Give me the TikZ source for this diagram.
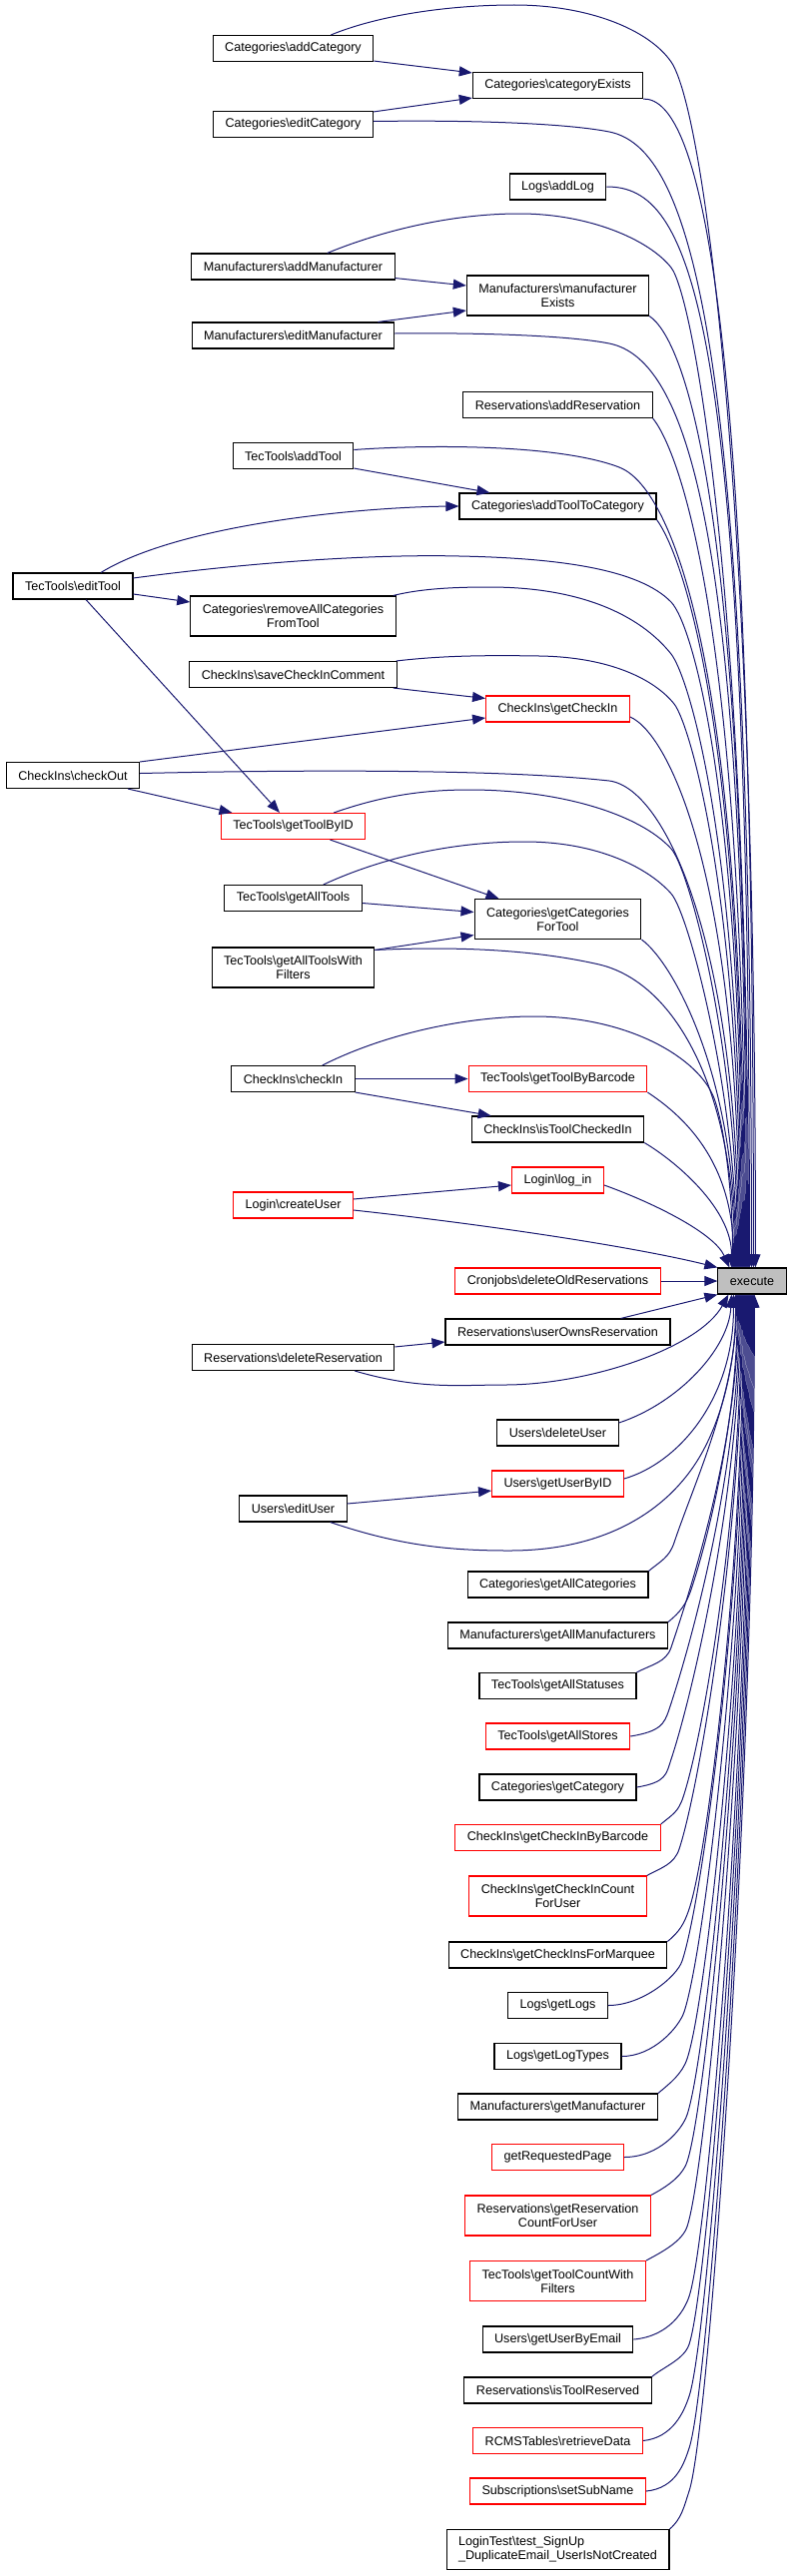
\documentclass[tikz,border=0pt]{standalone}
\usepackage{fontspec}
\setmainfont{Liberation Sans}
\usetikzlibrary{arrows.meta,calc}
\definecolor{edgec}{HTML}{191970}
\definecolor{boxred}{HTML}{FF0000}
\definecolor{boxgray}{HTML}{BFBFBF}
\newcommand{\fnsize}{\fontsize{12.6pt}{14pt}\selectfont}
\newcommand{\bsl}{\textbackslash}
\tikzset{
  fn/.style={rectangle, draw=black, fill=white, line width=1.1pt, inner xsep=12pt, minimum height=26pt, font=\fnsize, align=center},
  fnr/.style={fn, draw=boxred},
  fnx/.style={fn, fill=boxgray},
  two/.style={minimum height=40pt},
  calls/.style={draw=edgec, line width=1pt, -{Triangle[length=13pt,width=10pt]}},
}
\begin{document}
\begin{tikzpicture}[x=1pt,y=-1pt]
  \useasboundingbox (0,0) rectangle (793,2580);
  \node[fn] (catAdd) at (293.5,48.5) {Categories\bsl addCategory};
  \node[fn] (catExists) at (558.5,85.5) {Categories\bsl categoryExists};
  \node[fn] (catEdit) at (293.5,124.5) {Categories\bsl editCategory};
  \node[fn] (logAdd) at (558.5,187) {Logs\bsl addLog};
  \node[fn] (manAdd) at (293.5,267) {Manufacturers\bsl addManufacturer};
  \node[fn,two] (manExists) at (558.5,296) {Manufacturers\bsl manufacturer\\Exists};
  \node[fn] (manEdit) at (293.5,336) {Manufacturers\bsl editManufacturer};
  \node[fn] (resAdd) at (558.5,405.5) {Reservations\bsl addReservation};
  \node[fn] (toolAdd) at (293.5,456.5) {TecTools\bsl addTool};
  \node[fn] (catAddTool) at (558.5,507) {Categories\bsl addToolToCategory};
  \node[fn] (toolEdit) at (73,587) {TecTools\bsl editTool};
  \node[fn,two] (catRemove) at (293.5,617) {Categories\bsl removeAllCategories\\FromTool};
  \node[fn] (ciComment) at (293.5,675.5) {CheckIns\bsl saveCheckInComment};
  \node[fnr] (ciGet) at (558.5,710) {CheckIns\bsl getCheckIn};
  \node[fn] (ciOut) at (73,776.5) {CheckIns\bsl checkOut};
  \node[fnr] (toolByID) at (293.5,827.5) {TecTools\bsl getToolByID};
  \node[fn] (toolAll) at (293.5,899.5) {TecTools\bsl getAllTools};
  \node[fn,two] (catForTool) at (558.5,920.5) {Categories\bsl getCategories\\ForTool};
  \node[fn,two] (toolAllFilt) at (293.5,969) {TecTools\bsl getAllToolsWith\\Filters};
  \node[fn] (ciIn) at (293.5,1080.5) {CheckIns\bsl checkIn};
  \node[fnr] (toolBarcode) at (558.5,1080.5) {TecTools\bsl getToolByBarcode};
  \node[fn] (ciIsIn) at (558.5,1131) {CheckIns\bsl isToolCheckedIn};
  \node[fnr] (logIn) at (558.5,1182) {Login\bsl log\_in};
  \node[fnr] (userNew) at (293.5,1207) {Login\bsl createUser};
  \node[fnx] (execute) at (753,1283) {execute};
  \node[fnr] (cronDel) at (558.5,1283) {Cronjobs\bsl deleteOldReservations};
  \node[fn] (resOwns) at (558.5,1334) {Reservations\bsl userOwnsReservation};
  \node[fn] (resDel) at (293.5,1359.5) {Reservations\bsl deleteReservation};
  \node[fn] (userDel) at (558.5,1435) {Users\bsl deleteUser};
  \node[fnr] (userByID) at (558.5,1486) {Users\bsl getUserByID};
  \node[fn] (userEdit) at (293.5,1511) {Users\bsl editUser};
  \node[fn] (catAll) at (558.5,1587) {Categories\bsl getAllCategories};
  \node[fn] (manAll) at (558.5,1638) {Manufacturers\bsl getAllManufacturers};
  \node[fn] (toolStat) at (558.5,1688.5) {TecTools\bsl getAllStatuses};
  \node[fnr] (toolStores) at (558.5,1739) {TecTools\bsl getAllStores};
  \node[fn] (catGet) at (558.5,1790) {Categories\bsl getCategory};
  \node[fnr] (ciByBarcode) at (558.5,1840.5) {CheckIns\bsl getCheckInByBarcode};
  \node[fnr,two] (ciCount) at (558.5,1899) {CheckIns\bsl getCheckInCount\\ForUser};
  \node[fn] (ciMarquee) at (558.5,1958) {CheckIns\bsl getCheckInsForMarquee};
  \node[fn] (logGet) at (558.5,2008.5) {Logs\bsl getLogs};
  \node[fn] (logTypes) at (558.5,2059.5) {Logs\bsl getLogTypes};
  \node[fn] (manGet) at (558.5,2110) {Manufacturers\bsl getManufacturer};
  \node[fnr] (pageReq) at (558.5,2160.5) {getRequestedPage};
  \node[fnr,two] (resCount) at (558.5,2219) {Reservations\bsl getReservation\\CountForUser};
  \node[fnr,two] (toolCount) at (558.5,2284.5) {TecTools\bsl getToolCountWith\\Filters};
  \node[fn] (userByMail) at (558.5,2343) {Users\bsl getUserByEmail};
  \node[fn] (resIsRes) at (558.5,2394) {Reservations\bsl isToolReserved};
  \node[fnr] (tblRetrieve) at (558.5,2444.5) {RCMSTables\bsl retrieveData};
  \node[fnr] (subName) at (558.5,2495) {Subscriptions\bsl setSubName};
  \node[fn,two,align=left] (loginTest) at (558.5,2553.5) {LoginTest\bsl test\_SignUp\\\_DuplicateEmail\_UserIsNotCreated};
  % short calls
  \draw[calls] ([yshift=1pt]catAdd.south east) -- ([yshift=-1pt]catExists.north west);
  \draw[calls] ([yshift=-1pt]catEdit.north east) -- ([yshift=1pt]catExists.south west);
  \draw[calls] ([yshift=2pt]manAdd.south east) -- ([yshift=10pt]manExists.west);
  \draw[calls] ([xshift=-17pt]manEdit.north east) -- ([yshift=-15pt]manExists.west);
  \draw[calls] ([yshift=1pt]toolAdd.south east) -- ([xshift=31pt]catAddTool.north west);
  \draw[calls] ([xshift=28pt]toolEdit.north) .. controls (180,525) and (360,508) .. (catAddTool.west);
  \draw[calls] ([yshift=-8pt]toolEdit.east) -- ([yshift=14pt]catRemove.west);
  \draw[calls] ([xshift=13pt]toolEdit.south) -- ([xshift=-13.5pt]toolByID.north);
  \draw[calls] ([xshift=-4pt]ciComment.south east) -- ([yshift=-3pt]ciGet.north west);
  \draw[calls] (ciOut.north east) -- ([yshift=-9pt]ciGet.west);
  \draw[calls] ([xshift=-12pt]ciOut.south east) -- ([xshift=-61pt]toolByID.north);
  \draw[calls] ([xshift=37pt]toolByID.south) -- ([xshift=-59pt]catForTool.north);
  \draw[calls] ([yshift=-5pt]toolAll.east) -- ([yshift=7pt]catForTool.west);
  \draw[calls] ([yshift=-3pt]toolAllFilt.north east) -- ([yshift=-16pt]catForTool.west);
  \draw[calls] (ciIn) -- (toolBarcode);
  \draw[calls] (ciIn.south east) -- ([xshift=20pt]ciIsIn.north west);
  \draw[calls] ([yshift=6pt]userNew.east) -- ([yshift=-5pt]logIn.west);
  \draw[calls] ([yshift=-3pt]resDel.north east) -- ([yshift=-10pt]resOwns.west);
  \draw[calls] ([yshift=5pt]userEdit.east) -- ([yshift=-7pt]userByID.west);
  % into execute from above
  \draw[calls] ([xshift=-43pt]catAdd.north east) .. controls (380,15) and (450,5) .. (515,5) .. controls (590,5) and (650,30) .. (672,62) .. controls (705,110) and (757,500) .. ($(execute.north west)+(38,0)$);
  \draw[calls] (catExists.south east) .. controls (700,98) and (755,300) .. ($(execute.north west)+(36,0)$);
  \draw[calls] ([yshift=3pt]catEdit.east) .. controls (480,120) and (570,124) .. (610,132) .. controls (690,148) and (753,330) .. ($(execute.north west)+(34,0)$);
  \draw[calls] (logAdd.east) .. controls (690,187) and (751,300) .. ($(execute.north west)+(32,0)$);
  \draw[calls] ([xshift=-68pt]manAdd.north east) .. controls (380,232) and (450,214) .. (520,214) .. controls (590,214) and (650,240) .. (672,268) .. controls (694,296) and (750,600) .. ($(execute.north west)+(31,0)$);
  \draw[calls] (manExists.south east) .. controls (685,340) and (749,500) .. ($(execute.north west)+(30,0)$);
  \draw[calls] ([yshift=2pt]manEdit.east) .. controls (480,333) and (570,336) .. (610,344) .. controls (690,360) and (748,540) .. ($(execute.north west)+(29,0)$);
  \draw[calls] (resAdd.south east) .. controls (675,445) and (747,600) .. ($(execute.north west)+(28,0)$);
  \draw[calls] ([yshift=6pt]toolAdd.east) .. controls (430,445) and (560,445) .. (620,468) .. controls (670,487) and (746,650) .. ($(execute.north west)+(27,0)$);
  \draw[calls] (catAddTool.south east) .. controls (678,548) and (745,700) .. ($(execute.north west)+(26,0)$);
  \draw[calls] ([yshift=8pt]toolEdit.east) .. controls (260,562) and (380,555) .. (460,557) .. controls (560,559) and (640,570) .. (672,603) .. controls (694,626) and (744,800) .. ($(execute.north west)+(25,0)$);
  \draw[calls] ([xshift=-3pt]catRemove.north east) .. controls (420,590) and (450,588) .. (490,588) .. controls (580,588) and (640,615) .. (672,655) .. controls (690,678) and (743,850) .. ($(execute.north west)+(24,0)$);
  \draw[calls] ([xshift=-1pt]ciComment.north east) .. controls (440,657) and (480,656) .. (540,657) .. controls (610,658) and (655,680) .. (675,705) .. controls (691,725) and (742,900) .. ($(execute.north west)+(23,0)$);
  \draw[calls] ([yshift=-8pt]ciGet.east) .. controls (670,735) and (741,880) .. ($(execute.north west)+(22,0)$);
  \draw[calls] ([yshift=2pt]ciOut.east) .. controls (300,771) and (500,770) .. (610,782) .. controls (670,790) and (740,960) .. ($(execute.north west)+(21,0)$);
  \draw[calls] ([xshift=-32pt]toolByID.north east) .. controls (380,798) and (420,791) .. (470,791) .. controls (560,791) and (640,815) .. (672,850) .. controls (690,870) and (739,1050) .. ($(execute.north west)+(20,0)$);
  \draw[calls] ([xshift=-39pt]toolAll.north east) .. controls (380,860) and (450,843) .. (525,843) .. controls (600,843) and (650,870) .. (672,895) .. controls (690,915) and (738,1100) .. ($(execute.north west)+(19,0)$);
  \draw[calls] (catForTool.south east) .. controls (675,965) and (737,1080) .. ($(execute.north west)+(18,0)$);
  \draw[calls] ([yshift=-3pt]toolAllFilt.north east) .. controls (450,948) and (530,950) .. (600,966) .. controls (680,985) and (736,1100) .. ($(execute.north west)+(17,0)$);
  \draw[calls] (toolBarcode.south east) .. controls (680,1115) and (735,1160) .. ($(execute.north west)+(16,0)$);
  \draw[calls] ([xshift=-33pt]ciIn.north east) .. controls (380,1038) and (460,1018) .. (535,1018) .. controls (630,1018) and (700,1060) .. (715,1100) .. controls (726,1130) and (734,1200) .. ($(execute.north west)+(15,0)$);
  \draw[calls] (ciIsIn.south east) .. controls (675,1162) and (733,1210) .. ($(execute.north west)+(14,0)$);
  \draw[calls] ([yshift=-5pt]logIn.east) .. controls (655,1205) and (715,1235) .. ($(execute.north west)+(12,0)$);
  \draw[calls] ([yshift=-5pt]userNew.east) .. controls (500,1228) and (640,1250) .. (execute.north west);
  % into execute from the side and below
  \draw[calls] (cronDel) -- (execute);
  \draw[calls] ([xshift=-50pt]resOwns.north east) -- (execute.south west);
  \draw[calls] ([xshift=-40pt]resDel.south east) .. controls (420,1392) and (460,1387) .. (505,1387) .. controls (590,1387) and (700,1350) .. ($(execute.south west)+(11,0)$);
  \draw[calls] ([yshift=10pt]userDel.east) .. controls (680,1405) and (730,1350) .. ($(execute.south west)+(14,0)$);
  \draw[calls] ([yshift=5pt]userByID.east) .. controls (680,1465) and (735,1400) .. ($(execute.south west)+(16,0)$);
  \draw[calls] ([xshift=-17pt]userEdit.south east) .. controls (400,1548) and (450,1553) .. (510,1553) .. controls (610,1553) and (670,1510) .. (700,1460) .. controls (725,1418) and (737,1360) .. ($(execute.south west)+(18,0)$);
  \foreach \n/\a/\cx/\cy/\mx/\my/\dx/\l in {
    catAll/north east/12/-10/675/1545/19/100,
    manAll/north east/12/-10/692/1592/20/120,
    toolStat/north east/15/-8/672/1650/21/150,
    toolStores/east/30/-5/670/1712/22/180,
    catGet/east/30/-5/672/1762/23/200,
    ciByBarcode/north east/12/-10/684/1800/24/220,
    ciCount/north east/15/-8/680/1852/25/240,
    ciMarquee/north east/12/-10/690/1912/26/260,
    logGet/east/35/0/683/1964/27/300,
    logTypes/east/32/0/685/2015/28/320,
    manGet/north east/12/-10/688/2062/29/340,
    pageReq/east/35/0/688/2118/30/360,
    resCount/north east/15/-8/688/2165/31/380,
    toolCount/north east/15/-8/688/2230/32/400,
    userByMail/east/35/-3/690/2300/33/420,
    resIsRes/north east/12/-10/690/2348/34/440,
    tblRetrieve/east/30/-3/690/2400/35/460,
    subName/east/30/-3/690/2452/36/480,
    loginTest/north east/12/-10/690/2495/37/500}
    \draw[calls] (\n.\a) .. controls +(\cx,\cy) and ($(\mx,\my)+(-5,15)$) .. (\mx,\my) .. controls +(20,-60) and ($(execute.south west)+(\dx,\l)$) .. ($(execute.south west)+(\dx,0)$);
\end{tikzpicture}
\end{document}
